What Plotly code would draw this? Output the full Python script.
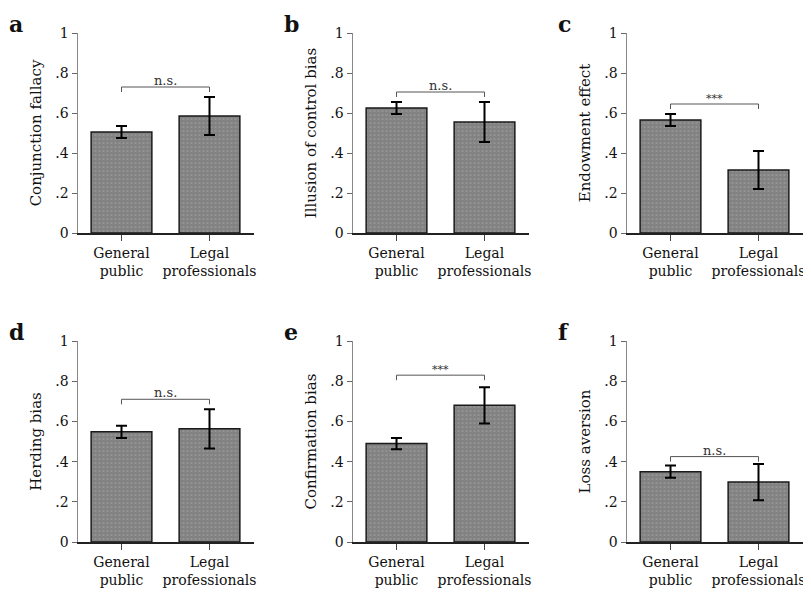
import plotly.graph_objects as go

groups = ["General<br>public", "Legal<br>professionals"]
panel_letters = ["a", "b", "c", "d", "e", "f"]
y_titles = ["Conjunction fallacy", "Illusion of control bias", "Endowment effect",
            "Herding bias", "Confirmation bias", "Loss aversion"]
means_public = [0.505, 0.625, 0.565, 0.548, 0.49, 0.35]
err_public = [0.03, 0.03, 0.03, 0.03, 0.028, 0.03]
means_legal = [0.585, 0.555, 0.315, 0.563, 0.68, 0.298]
err_legal = [0.095, 0.1, 0.095, 0.098, 0.09, 0.09]
sig_labels = ["n.s.", "n.s.", "***", "n.s.", "***", "n.s."]
sig_heights = [0.73, 0.705, 0.645, 0.71, 0.83, 0.425]
y_ticks = [0, 0.2, 0.4, 0.6, 0.8, 1]
y_ticklabels = ["0", ".2", ".4", ".6", ".8", "1"]

# page offset (body margin) compensation
OFF = 8
W, H = 811 - OFF, 592 - OFF
col_left = [77.5, 352.5, 626.5]
col_w = 176
row_top = [33, 341]
row_h = [200, 201]


def px_x(x):
    return (x - OFF) / W


def px_y(y):
    return 1 - (y - OFF) / H


FONT = "DejaVu Serif"
fig = go.Figure()

for i in range(6):
    r, c = divmod(i, 3)
    n = i + 1
    xa = "x" if n == 1 else f"x{n}"
    ya = "y" if n == 1 else f"y{n}"
    fig.add_trace(go.Bar(
        x=groups, y=[means_public[i], means_legal[i]],
        error_y=dict(type="data", array=[err_public[i], err_legal[i]],
                     color="black", thickness=2, width=5.5),
        marker=dict(color="#8a8a8a", line=dict(color="#1a1a1a", width=1.5),
                    pattern=dict(shape=".", fgcolor="#c4c4c4", bgcolor="#828282",
                                 size=4, solidity=0.15)),
        width=0.69, xaxis=xa, yaxis=ya, showlegend=False,
    ))
    x0 = px_x(col_left[c])
    x1 = px_x(col_left[c] + col_w)
    y1 = px_y(row_top[r])
    y0 = px_y(row_top[r] + row_h[r])
    fig.layout[f"xaxis{'' if n == 1 else n}"] = dict(
        domain=[x0, x1], anchor=ya, range=[-0.5, 1.5], automargin=False,
        showline=True, linecolor="#222", linewidth=1.5,
        ticks="outside", ticklen=6, tickcolor="#444", tickwidth=1,
        tickfont=dict(family=FONT, size=14, color="#111"), showgrid=False,
        fixedrange=True,
    )
    fig.layout[f"yaxis{'' if n == 1 else n}"] = dict(
        domain=[y0, y1], anchor=xa, range=[0, 1], automargin=False,
        showline=True, linecolor="#888", linewidth=1,
        ticks="outside", ticklen=5, tickcolor="#666", tickwidth=1,
        tickvals=y_ticks, ticktext=y_ticklabels,
        tickfont=dict(family=FONT, size=14, color="#111"), showgrid=False,
        zeroline=False,
        title=dict(text=y_titles[i], font=dict(family=FONT, size=15, color="#111"),
                   standoff=10),
    )
    # significance bracket
    h = sig_heights[i]
    fig.add_shape(type="path",
                  path=f"M 0,{h - 0.025} L 0,{h} L 1,{h} L 1,{h - 0.025}",
                  xref=xa, yref=ya, line=dict(color="#555", width=1))
    fig.add_annotation(x=0.5, y=h, xref=xa, yref=ya, text=sig_labels[i],
                       showarrow=False, yanchor="bottom", yshift=-3,
                       font=dict(family=FONT, size=13 if sig_labels[i] == "n.s." else 11,
                                 color="#333"))
    # panel letter
    fig.add_annotation(x=px_x(col_left[c] - 71), y=px_y(row_top[r] - 24),
                       xref="paper", yref="paper", text=f"<b>{panel_letters[i]}</b>",
                       showarrow=False, xanchor="left", yanchor="top",
                       font=dict(family=FONT, size=22, color="#111"))

fig.update_layout(
    width=W, height=H, margin=dict(l=0, r=0, t=0, b=0, autoexpand=False),
    paper_bgcolor="white", plot_bgcolor="white", bargap=0.3,
)
fig.write_html("out.html")
